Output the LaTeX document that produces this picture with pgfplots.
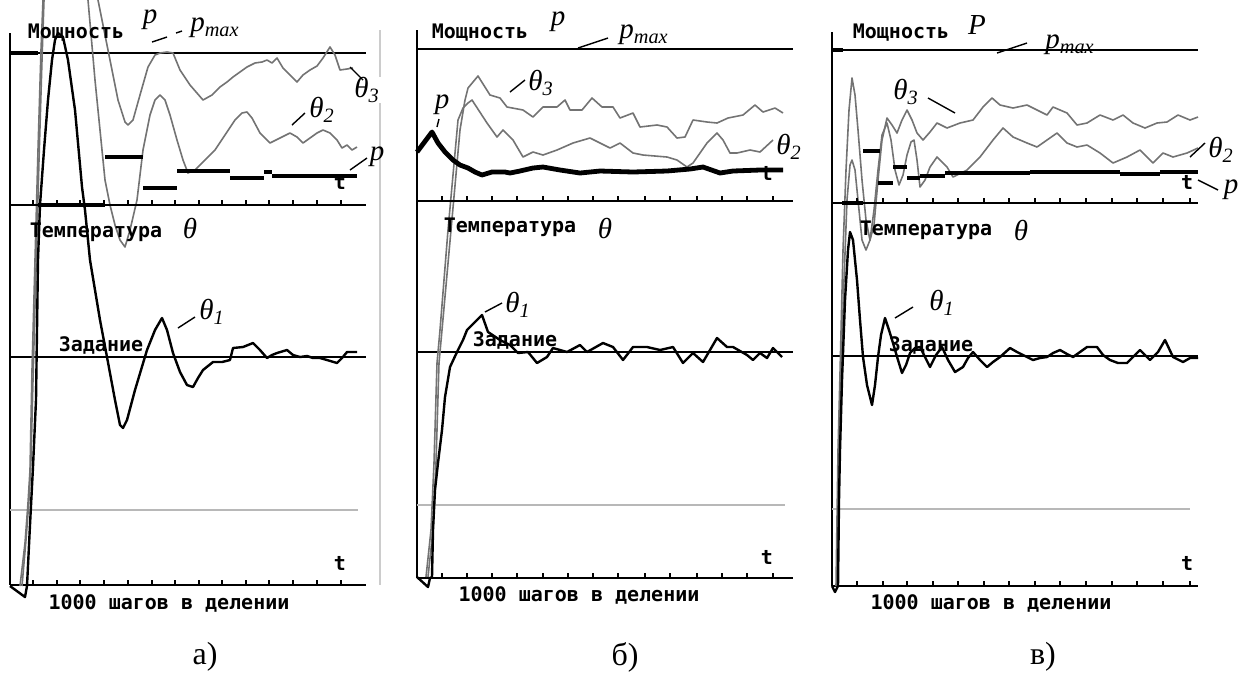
\documentclass[border=0pt]{standalone}
\usepackage{pgfplots}
\pgfplotsset{compat=1.18}
\usepackage{fontspec}
\setmainfont{Liberation Serif}
\newfontfamily\scr{DejaVu Sans Mono}

% pixel coordinates of the scan: x = px, y = -py, 1 px = 0.5pt
\pgfplotsset{
    screen/.style={x=0.5pt, y=0.5pt, anchor=south west, enlargelimits=false, clip=false,
        axis x line=bottom, axis y line=left, axis line style={-, line width=0.7pt},
        ytick=\empty, xticklabels={}, tick align=inside, major tick length=2.5pt,
        tick style={black, line width=0.7pt}},
    zeroline/.style={screen, axis y line=none},
    thinblk/.style={black, line width=0.7pt},
    setgray/.style={black!28, line width=1pt},
    th1/.style={black, line width=1.2pt, line join=round},
    th23/.style={black!55, line width=0.8pt, line join=round},
    pth/.style={black, line width=2.4pt, unbounded coords=jump},
}
\tikzset{
    scrtxt/.style={font=\scr\bfseries\fontsize{10}{12}\selectfont, inner sep=0pt},
    lab/.style={font=\fontsize{14.5}{16}\selectfont\itshape, inner sep=0.5pt},
    lead/.style={black, line width=0.7pt},
}

\begin{document}
\begin{tikzpicture}
\useasboundingbox (0,0) rectangle (625.5pt,-338.5pt);

% ---------------- а) ----------------
\begin{axis}[screen, xmin=10, xmax=366, ymin=-585, ymax=-33, at={(5pt,-292.5pt)},
    xtick={33,57,80,104,128,152,175,199,222,246,269,293,317,341}]
\addplot[black!20, line width=0.6pt] coordinates {(380,-30) (380,-585)};
\addplot[setgray] coordinates {(10,-510) (358,-510)};
\addplot[thinblk] coordinates {(10,-53) (366,-53)};
\addplot[thinblk] coordinates {(10,-357) (366,-357)};
% theta2, theta3 (leave the screen at the top and come back)
\addplot[th23] coordinates {(20,-586) (25,-543) (28,-503) (30,-470) (32,-370) (35,-260) (38,-150) (41,-50) (43,0)};
\addplot[th23] coordinates {(22,-586) (26,-540) (29,-500) (31,-460) (33,-380) (36,-270) (39,-160) (42,-60) (44,0)};
\addplot[th23] coordinates {(88,0) (95,-80) (100,-130) (105,-180) (110,-205) (115,-225) (120,-240) (125,-247) (130,-230) (137,-200) (143,-150) (150,-115) (155,-100) (160,-95) (165,-100) (170,-115) (177,-140) (183,-160) (188,-173) (195,-170) (205,-160) (215,-150) (225,-135) (235,-120) (242,-113) (247,-112) (252,-118) (260,-133) (270,-143) (280,-138) (290,-133) (297,-137) (303,-143) (310,-138) (317,-133) (323,-130) (330,-133) (337,-140) (342,-148) (347,-145) (352,-150) (357,-147)};
\addplot[th23] coordinates {(98,0) (105,-35) (112,-70) (118,-100) (125,-122) (128,-125) (133,-120) (140,-95) (148,-67) (155,-55) (160,-53) (167,-52) (173,-53) (180,-70) (190,-85) (203,-100) (212,-95) (220,-87) (227,-82) (233,-77) (240,-72) (247,-67) (255,-63) (262,-62) (267,-60) (272,-63) (277,-58) (283,-68) (290,-75) (297,-82) (303,-75) (310,-70) (317,-66) (323,-58) (330,-47) (335,-55) (340,-70) (347,-69) (353,-68)};
% power p
\addplot[pth] coordinates {(10,-53) (38,-53) (38,nan) (38,-205) (105,-205) (105,nan) (105,-157) (143,-157) (143,nan) (143,-188) (177,-188) (177,nan) (177,-171) (230,-171) (230,nan) (230,-178) (264,-178) (264,nan) (264,-172) (272,-172) (272,nan) (272,-176) (357,-176)};
% temperature theta1
\addplot[th1] coordinates {(10,-586) (25,-597) (27,-586) (30,-525) (33,-467) (36,-400) (37,-330) (38,-260) (40,-205) (44,-150) (48,-100) (52,-60) (55,-40) (58,-33) (63,-37) (68,-60) (75,-110) (82,-187) (85,-210) (90,-260) (100,-320) (107,-357) (115,-400) (120,-425) (123,-428) (127,-420) (135,-390) (147,-350) (155,-330) (162,-318) (167,-330) (173,-353) (180,-372) (187,-385) (193,-387) (198,-378) (203,-370) (213,-362) (222,-362) (230,-360) (233,-348) (243,-347) (253,-343) (260,-350) (267,-358) (272,-355) (277,-353) (287,-350) (293,-355) (300,-357) (307,-356) (313,-358) (320,-358) (327,-360) (337,-363) (342,-358) (347,-352) (357,-352)};
\node[scrtxt] at (axis cs:76,-33) {Мощность};
\node[lab] at (axis cs:150,-20) {p};
\draw[lead] (axis cs:152,-42) -- (axis cs:167,-37);
\draw[lead] (axis cs:176,-33) -- (axis cs:182,-31);
\node[lab] at (axis cs:215,-28) {p\textsubscript{max}};
\node[lab, fill=white] at (axis cs:367,-90) {θ\textsubscript{3}};
\draw[lead] (axis cs:350,-67) -- (axis cs:363,-80);
\node[lab, fill=white] at (axis cs:322,-110) {θ\textsubscript{2}};
\draw[lead] (axis cs:292,-125) -- (axis cs:305,-113);
\node[lab] at (axis cs:377,-157) {p};
\draw[lead] (axis cs:350,-170) -- (axis cs:367,-158);
\node[scrtxt] at (axis cs:340,-182) {t};
\node[scrtxt] at (axis cs:96,-232) {Температура};
\node[lab] at (axis cs:190,-228) {θ};
\node[lab] at (axis cs:212,-312) {θ\textsubscript{1}};
\draw[lead] (axis cs:178,-328) -- (axis cs:195,-317);
\node[scrtxt] at (axis cs:101,-345) {Задание};
\node[scrtxt] at (axis cs:340,-563) {t};
\node[scrtxt] at (axis cs:169,-603) {1000 шагов в делении};
\node[font=\fontsize{16}{18}\selectfont, inner sep=0pt] at (axis cs:205,-657) {а)};
\end{axis}
\begin{axis}[zeroline, xmin=10, xmax=366, ymin=-205, ymax=-195, at={(5pt,-102.5pt)},
    xtick={33,57,80,104,128,152,175,199,222,246,269,293,317,341}]
\end{axis}

% ---------------- б) ----------------
\begin{axis}[screen, xmin=417, xmax=793, ymin=-578, ymax=-30, at={(208.5pt,-289pt)},
    xtick={442,467,492,517,543,568,593,618,645,670,697,722,747,773}]
\addplot[setgray] coordinates {(417,-505) (785,-505)};
\addplot[thinblk] coordinates {(417,-49) (793,-49)};
\addplot[thinblk] coordinates {(417,-352) (793,-352)};
\addplot[th23] coordinates {(426,-577) (431,-530) (434,-463) (437,-363) (440,-330) (448,-230) (458,-120) (463,-108) (468,-103) (472,-100) (487,-123) (497,-137) (503,-130) (513,-140) (523,-157) (533,-152) (543,-155) (557,-150) (573,-143) (590,-138) (600,-143) (610,-148) (620,-143) (633,-153) (643,-155) (667,-157) (677,-160) (687,-167) (693,-163) (707,-143) (717,-133) (723,-140) (730,-153) (737,-153) (750,-150) (760,-152) (773,-140)};
\addplot[th23] coordinates {(428,-577) (433,-530) (436,-463) (439,-363) (442,-330) (451,-230) (460,-130) (465,-100) (468,-88) (478,-76) (490,-95) (500,-98) (507,-107) (523,-110) (533,-117) (543,-107) (557,-107) (565,-100) (570,-110) (582,-110) (592,-98) (602,-107) (613,-107) (620,-118) (633,-113) (640,-127) (657,-125) (667,-127) (677,-138) (685,-137) (693,-120) (707,-122) (717,-123) (728,-118) (743,-115) (755,-105) (763,-112) (775,-108) (783,-113)};
\addplot[pth, line join=round] coordinates {(417,-152) (432,-132) (438,-143) (445,-152) (453,-160) (460,-165) (468,-168) (475,-172) (482,-175) (492,-172) (505,-172) (510,-173) (520,-171) (533,-168) (543,-167) (560,-170) (580,-173) (600,-171) (633,-172) (667,-171) (690,-169) (703,-167) (720,-173) (733,-171) (760,-170) (783,-170)};
\addplot[th1] coordinates {(417,-577) (428,-587) (430,-578) (432,-577) (433,-530) (435,-490) (438,-463) (442,-430) (445,-397) (450,-367) (457,-352) (463,-340) (467,-330) (472,-325) (482,-315) (488,-332) (500,-340) (510,-345) (518,-353) (528,-352) (537,-363) (547,-357) (553,-348) (567,-352) (580,-345) (587,-352) (603,-343) (613,-347) (623,-360) (633,-347) (647,-347) (660,-350) (673,-347) (683,-363) (693,-353) (703,-362) (717,-338) (727,-347) (733,-347) (747,-355) (753,-360) (760,-353) (767,-358) (773,-348) (782,-357)};
\node[scrtxt] at (axis cs:480,-33) {Мощность};
\node[lab] at (axis cs:558,-22) {p};
\draw[lead] (axis cs:578,-48) -- (axis cs:608,-38);
\node[lab] at (axis cs:644,-35) {p\textsubscript{max}};
\node[lab] at (axis cs:541,-83) {θ\textsubscript{3}};
\draw[lead] (axis cs:510,-92) -- (axis cs:525,-80);
\node[lab] at (axis cs:442,-105) {p};
\draw[lead] (axis cs:437,-127) -- (axis cs:439,-119);
\node[lab] at (axis cs:789,-147) {θ\textsubscript{2}};
\node[scrtxt] at (axis cs:767,-173) {t};
\node[scrtxt] at (axis cs:510,-227) {Температура};
\node[lab] at (axis cs:605,-228) {θ};
\node[lab] at (axis cs:518,-305) {θ\textsubscript{1}};
\draw[lead] (axis cs:485,-312) -- (axis cs:502,-303);
\node[scrtxt] at (axis cs:515,-340) {Задание};
\node[scrtxt] at (axis cs:767,-557) {t};
\node[scrtxt] at (axis cs:579,-595) {1000 шагов в делении};
\node[font=\fontsize{16}{18}\selectfont, inner sep=0pt] at (axis cs:625,-657) {б)};
\end{axis}
\begin{axis}[zeroline, xmin=417, xmax=793, ymin=-201, ymax=-195, at={(208.5pt,-100.5pt)},
    xtick={442,467,492,517,543,568,593,618,645,670,697,722,747,773}]
\end{axis}

% ---------------- в) ----------------
\begin{axis}[screen, xmin=832, xmax=1198, ymin=-586, ymax=-32, at={(416pt,-293pt)},
    xtick={857,883,907,933,958,984,1009,1035,1060,1086,1112,1137,1163,1190}]
\addplot[setgray] coordinates {(832,-509) (1190,-509)};
\addplot[thinblk] coordinates {(832,-50) (1198,-50)};
\addplot[thinblk] coordinates {(832,-356) (1198,-356)};
\addplot[th23] coordinates {(836,-586) (838,-450) (840,-373) (843,-250) (846,-170) (849,-110) (852,-78) (855,-95) (858,-130) (862,-180) (866,-220) (870,-240) (874,-225) (878,-180) (882,-140) (887,-118) (892,-125) (897,-133) (902,-120) (907,-110) (912,-120) (917,-133) (923,-140) (930,-132) (937,-123) (947,-128) (960,-123) (973,-120) (983,-107) (992,-98) (1000,-105) (1013,-108) (1027,-105) (1037,-110) (1047,-115) (1053,-107) (1067,-113) (1077,-125) (1087,-123) (1100,-115) (1113,-120) (1123,-115) (1133,-123) (1145,-128) (1157,-123) (1167,-122) (1178,-115) (1190,-120) (1198,-117)};
\addplot[th23] coordinates {(837,-586) (839,-450) (841,-373) (844,-280) (847,-200) (850,-165) (852,-160) (855,-170) (858,-200) (862,-240) (866,-250) (870,-240) (874,-210) (878,-170) (882,-135) (887,-123) (891,-140) (895,-170) (899,-185) (903,-175) (907,-155) (911,-142) (914,-140) (917,-160) (920,-187) (925,-180) (930,-167) (937,-157) (947,-167) (953,-177) (967,-170) (980,-157) (993,-140) (1003,-128) (1013,-137) (1027,-143) (1037,-147) (1047,-140) (1057,-133) (1067,-143) (1077,-147) (1087,-145) (1100,-153) (1113,-163) (1127,-157) (1140,-150) (1153,-163) (1163,-153) (1173,-157) (1187,-153) (1198,-148)};
\addplot[pth] coordinates {(832,-50) (843,-50) (843,nan) (842,-203) (863,-203) (863,nan) (863,-151) (880,-151) (880,nan) (878,-183) (893,-183) (893,nan) (893,-167) (907,-167) (907,nan) (907,-178) (920,-178) (920,nan) (920,-176) (945,-176) (945,nan) (945,-173) (1030,-173) (1030,nan) (1030,-172) (1120,-172) (1120,nan) (1120,-174) (1160,-174) (1160,nan) (1160,-172) (1198,-172)};
\addplot[th1] coordinates {(832,-586) (835,-592) (838,-586) (839,-500) (840,-450) (842,-380) (845,-300) (848,-250) (850,-232) (853,-240) (857,-280) (860,-320) (863,-357) (867,-385) (872,-405) (875,-385) (878,-357) (881,-335) (885,-318) (889,-330) (893,-343) (898,-360) (902,-373) (906,-365) (910,-353) (915,-348) (920,-347) (925,-357) (930,-367) (936,-355) (942,-347) (948,-360) (955,-372) (963,-367) (968,-358) (973,-352) (980,-360) (987,-367) (993,-362) (1000,-357) (1010,-348) (1017,-352) (1023,-355) (1033,-360) (1040,-358) (1047,-357) (1053,-353) (1060,-350) (1067,-354) (1073,-357) (1080,-352) (1087,-347) (1097,-347) (1103,-355) (1110,-360) (1118,-363) (1127,-363) (1133,-357) (1140,-350) (1150,-360) (1158,-352) (1165,-340) (1173,-357) (1183,-362) (1190,-358) (1198,-358)};
\node[scrtxt] at (axis cs:901,-33) {Мощность};
\node[lab] at (axis cs:977,-25) {P};
\draw[lead] (axis cs:997,-53) -- (axis cs:1027,-43);
\node[lab] at (axis cs:1070,-45) {p\textsubscript{max}};
\node[lab] at (axis cs:906,-92) {θ\textsubscript{3}};
\draw[lead] (axis cs:928,-98) -- (axis cs:955,-113);
\node[lab] at (axis cs:1221,-150) {θ\textsubscript{2}};
\draw[lead] (axis cs:1190,-157) -- (axis cs:1205,-143);
\node[lab] at (axis cs:1231,-190) {p};
\draw[lead] (axis cs:1198,-180) -- (axis cs:1218,-190);
\node[scrtxt] at (axis cs:1187,-182) {t};
\node[scrtxt] at (axis cs:926,-230) {Температура};
\node[lab] at (axis cs:1021,-230) {θ};
\node[lab] at (axis cs:942,-303) {θ\textsubscript{1}};
\draw[lead] (axis cs:895,-318) -- (axis cs:913,-307);
\node[scrtxt] at (axis cs:931,-345) {Задание};
\node[scrtxt] at (axis cs:1187,-563) {t};
\node[scrtxt] at (axis cs:991,-603) {1000 шагов в делении};
\node[font=\fontsize{16}{18}\selectfont, inner sep=0pt] at (axis cs:1043,-657) {в)};
\end{axis}
\begin{axis}[zeroline, xmin=832, xmax=1198, ymin=-203, ymax=-195, at={(416pt,-101.5pt)},
    xtick={857,883,907,933,958,984,1009,1035,1060,1086,1112,1137,1163,1190}]
\end{axis}
\end{tikzpicture}
\end{document}
